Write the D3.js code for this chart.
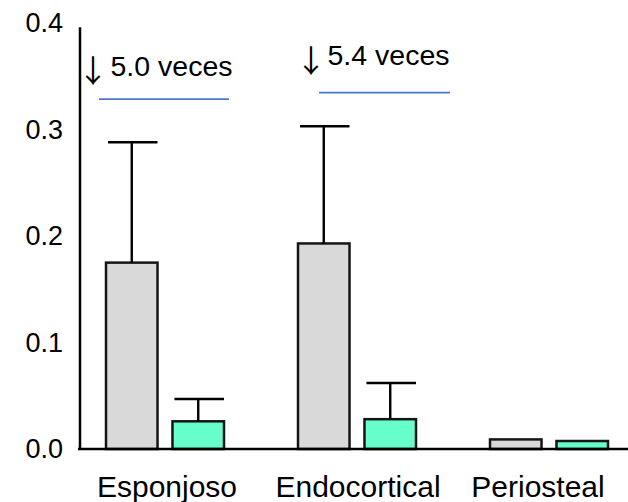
<!DOCTYPE html>
<html>
<head>
<meta charset="utf-8">
<script src="https://cdn.jsdelivr.net/npm/d3@7"></script>
<style>
  html, body { margin: 0; padding: 0; background: #fff; }
  svg { display: block; font-family: "Liberation Sans", Arial, sans-serif; }
</style>
</head>
<body>
<svg id="chart" width="628" height="502"></svg>
<script>
// Bone compartments and the two groups compared in each
const categories = ["Esponjoso", "Endocortical", "Periosteal"];
const groups = ["control", "tratado"];

// Mean values per compartment
const controlValues = [0.175, 0.193, 0.009];
const treatedValues = [0.026, 0.028, 0.0075];

// Upper end of the error bar (mean + SD); null where none is drawn
const controlUpper = [0.288, 0.303, null];
const treatedUpper = [0.047, 0.062, null];

// Y-axis ticks
const yTicks = [0.0, 0.1, 0.2, 0.3, 0.4];
const yTickLabels = ["0.0", "0.1", "0.2", "0.3", "0.4"];

// Fold-change notes above the first two compartments
const noteCategories = ["Esponjoso", "Endocortical"];
const noteArrow = "\u2193";
const noteTexts = ["5.0 veces", "5.4 veces"];
const noteTextLevels = [0.3507, 0.3601];
const noteLineLevels = [0.3286, 0.3346];

// ---- layout & style ----
const W = 628, H = 502;
const colors = { control: "#d9d9d9", tratado: "#66ffcc" };
const labelDx = [2, 1, -11];
const noteLayout = [
  { arrowDx: -72, textDx: -54.5, lineX0: -66, lineX1: 64 },
  { arrowDx: -46, textDx: -29.5, lineX0: -38, lineX1: 93 }
];

const svg = d3.select("#chart");

const x = d3.scaleBand().domain(categories).range([69, 645]).padding(0);
const sub = d3.scaleBand().domain(groups)
  .range([x.bandwidth() / 2 - 59, x.bandwidth() / 2 + 59])
  .paddingInner(0.225);
const y = d3.scaleLinear().domain([0, 0.4]).range([449, 23]);

const rows = categories.map((c, i) => ({
  cat: c,
  bars: [
    { g: "control", v: controlValues[i], up: controlUpper[i] },
    { g: "tratado", v: treatedValues[i], up: treatedUpper[i] }
  ]
}));

// Y axis: labels only, with a plain vertical line
const yAxis = d3.axisLeft(y)
  .tickValues(yTicks)
  .tickFormat((d, i) => yTickLabels[i])
  .tickSize(0)
  .tickPadding(17);
const yg = svg.append("g").attr("transform", "translate(80,0)").call(yAxis);
yg.select(".domain").attr("stroke", "#000").attr("stroke-width", 2.5)
  .attr("d", `M0,${y(0.396)}V${y(0)}`);
yg.selectAll("text").attr("font-size", 27).attr("fill", "#000")
  .attr("font-family", "Liberation Sans, Arial, sans-serif");

// Bars
const grp = svg.append("g").selectAll("g.cat").data(rows).join("g")
  .attr("class", "cat")
  .attr("transform", d => `translate(${x(d.cat)},0)`);

grp.selectAll("rect").data(d => d.bars).join("rect")
  .attr("x", d => sub(d.g))
  .attr("width", sub.bandwidth())
  .attr("y", d => y(d.v))
  .attr("height", d => y(0) - y(d.v))
  .attr("fill", d => colors[d.g])
  .attr("stroke", "#151515")
  .attr("stroke-width", 2.5);

// Error bars (upper side only)
const eb = grp.selectAll("g.err").data(d => d.bars.filter(b => b.up != null)).join("g").attr("class", "err");
eb.append("line")
  .attr("x1", d => sub(d.g) + sub.bandwidth() / 2)
  .attr("x2", d => sub(d.g) + sub.bandwidth() / 2)
  .attr("y1", d => y(d.v))
  .attr("y2", d => y(d.up))
  .attr("stroke", "#000").attr("stroke-width", 2.4);
eb.append("line")
  .attr("x1", d => sub(d.g) + 2)
  .attr("x2", d => sub(d.g) + sub.bandwidth())
  .attr("y1", d => y(d.up))
  .attr("y2", d => y(d.up))
  .attr("stroke", "#000").attr("stroke-width", 2.4);

// Baseline running to the right edge
svg.append("line")
  .attr("x1", 78).attr("x2", W)
  .attr("y1", y(0)).attr("y2", y(0))
  .attr("stroke", "#000").attr("stroke-width", 2.5);

// Category labels
const xAxis = d3.axisBottom(x).tickSize(0).tickPadding(27);
const xg = svg.append("g").attr("transform", `translate(0,${y(0)})`).call(xAxis);
xg.select(".domain").remove();
xg.selectAll("text")
  .attr("font-size", 30).attr("fill", "#000")
  .attr("font-family", "Liberation Sans, Arial, sans-serif")
  .attr("dx", (d, i) => labelDx[i]);

// Fold-change notes
noteCategories.forEach((c, i) => {
  const cx = x(c) + x.bandwidth() / 2;
  const L = noteLayout[i];
  const ty = y(noteTextLevels[i]);
  svg.append("text")
    .attr("x", cx + L.arrowDx)
    .attr("y", ty + 6.5)
    .attr("text-anchor", "middle")
    .attr("font-family", "Noto Sans CJK JP")
    .attr("font-size", 31)
    .attr("fill", "#000")
    .text(noteArrow);
  svg.append("text")
    .attr("x", cx + L.textDx)
    .attr("y", ty)
    .attr("font-size", 28.5)
    .attr("fill", "#000")
    .text(noteTexts[i]);
  svg.append("line")
    .attr("x1", cx + L.lineX0).attr("x2", cx + L.lineX1)
    .attr("y1", y(noteLineLevels[i])).attr("y2", y(noteLineLevels[i]))
    .attr("stroke", "#4a78cc").attr("stroke-width", 1.8);
});
</script>
</body>
</html>
